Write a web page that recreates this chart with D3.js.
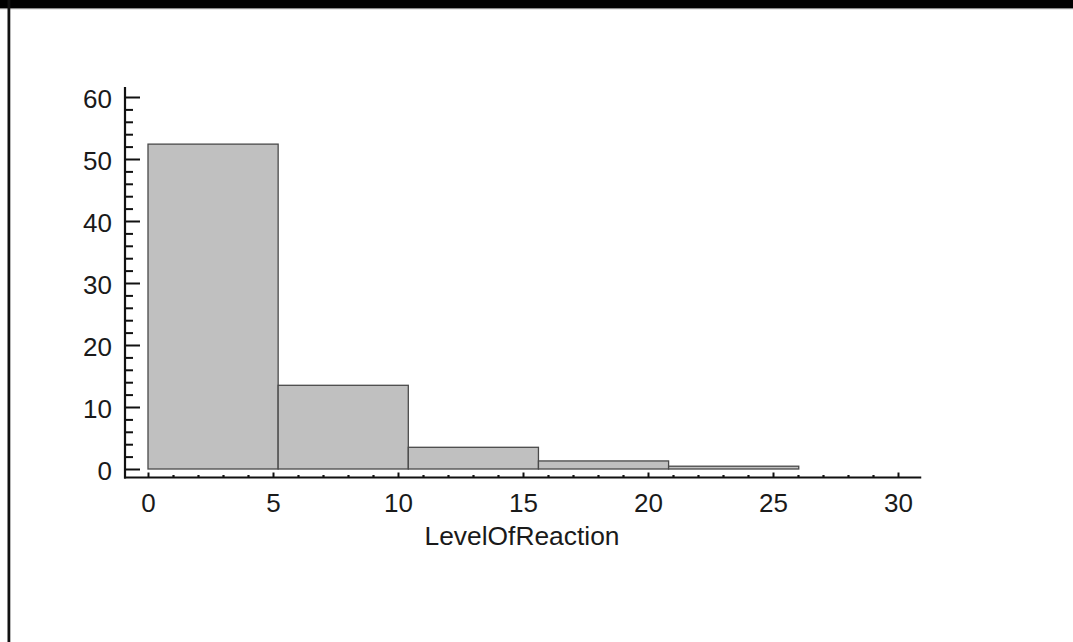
<!DOCTYPE html>
<html>
<head>
<meta charset="utf-8">
<script src="https://cdn.jsdelivr.net/npm/d3@7"></script>
<style>
  html, body { margin: 0; padding: 0; background: #fff; }
  svg { display: block; }
  text { font-family: "Liberation Sans", Arial, sans-serif; fill: #1a1a1a; }
</style>
</head>
<body>
<svg id="chart" width="1073" height="642"></svg>
<script>
// ---- data ----
const binEdges = [0, 5.206, 10.412, 15.618, 20.824, 26.03];
const binValues = [52.4, 13.5, 3.5, 1.3, 0.45];
const xTicks = [0, 5, 10, 15, 20, 25, 30];
const yTicks = [0, 10, 20, 30, 40, 50, 60];
const xLabel = "LevelOfReaction";

const svg = d3.select("#chart");

// frame: black band at top, black left edge
svg.append("rect").attr("x", 0).attr("y", 0).attr("width", 1073).attr("height", 8).attr("fill", "#000");
svg.append("rect").attr("x", 0).attr("y", 8).attr("width", 1073).attr("height", 1.2).attr("fill", "#888");
svg.append("rect").attr("x", 7.5).attr("y", 0).attr("width", 2.8).attr("height", 642).attr("fill", "#111");

const x = d3.scaleLinear().domain([0, 30]).range([148, 898]);
const y = d3.scaleLinear().domain([0, 60]).range([469, 97]);
const axisY = 477.5;
const axisX = 125;
const fs = 26;

// bars
const bins = binValues.map((v, i) => ({ x0: binEdges[i], x1: binEdges[i + 1], v }));
svg.append("g").selectAll("rect").data(bins).join("rect")
  .attr("x", d => x(d.x0))
  .attr("y", d => y(d.v))
  .attr("width", d => x(d.x1) - x(d.x0))
  .attr("height", d => y(0) - y(d.v))
  .attr("fill", "#c0c0c0")
  .attr("stroke", "#4a4a4a")
  .attr("stroke-width", 1.3);

// y axis
const yMinor = d3.range(0, 61, 2).filter(v => v % 10 !== 0);
const gy = svg.append("g").attr("transform", `translate(${axisX},0)`);
gy.call(d3.axisLeft(y).tickValues(yTicks).tickSize(-15).tickFormat(d3.format("d")));
gy.select(".domain").remove();
gy.selectAll(".tick line").attr("stroke", "#111").attr("stroke-width", 2);
gy.selectAll(".tick text").attr("font-size", fs).attr("dy", null).attr("y", 10).attr("x", -13).attr("fill", "#1a1a1a");
const gyMinor = svg.append("g").attr("transform", `translate(${axisX},0)`);
gyMinor.call(d3.axisLeft(y).tickValues(yMinor).tickSize(-8).tickFormat(""));
gyMinor.select(".domain").remove();
gyMinor.selectAll(".tick line").attr("stroke", "#111").attr("stroke-width", 2);
svg.append("line").attr("x1", axisX).attr("x2", axisX)
  .attr("y1", y(61.6)).attr("y2", axisY + 1)
  .attr("stroke", "#111").attr("stroke-width", 2.2);

// x axis
const xMinor = d3.range(0, 31, 1).filter(v => v % 5 !== 0);
const gx = svg.append("g").attr("transform", `translate(0,${axisY})`);
gx.call(d3.axisBottom(x).tickValues(xTicks).tickSize(-5).tickFormat(d3.format("d")));
gx.select(".domain").remove();
gx.selectAll(".tick line").attr("stroke", "#111").attr("stroke-width", 2);
gx.selectAll(".tick text").attr("font-size", fs).attr("dy", null).attr("y", 34).attr("fill", "#1a1a1a");
const gxMinor = svg.append("g").attr("transform", `translate(0,${axisY})`);
gxMinor.call(d3.axisBottom(x).tickValues(xMinor).tickSize(-2.5).tickFormat(""));
gxMinor.select(".domain").remove();
gxMinor.selectAll(".tick line").attr("stroke", "#111").attr("stroke-width", 2.2);
svg.append("line").attr("x1", axisX - 1).attr("x2", x(30.93))
  .attr("y1", axisY).attr("y2", axisY)
  .attr("stroke", "#111").attr("stroke-width", 2.2);

// x label
svg.append("text")
  .attr("x", (x(0) + x(30)) / 2 - 1)
  .attr("y", 545)
  .attr("text-anchor", "middle")
  .attr("font-size", 25)
  .attr("textLength", 195)
  .attr("lengthAdjust", "spacingAndGlyphs")
  .text(xLabel);
</script>
</body>
</html>
